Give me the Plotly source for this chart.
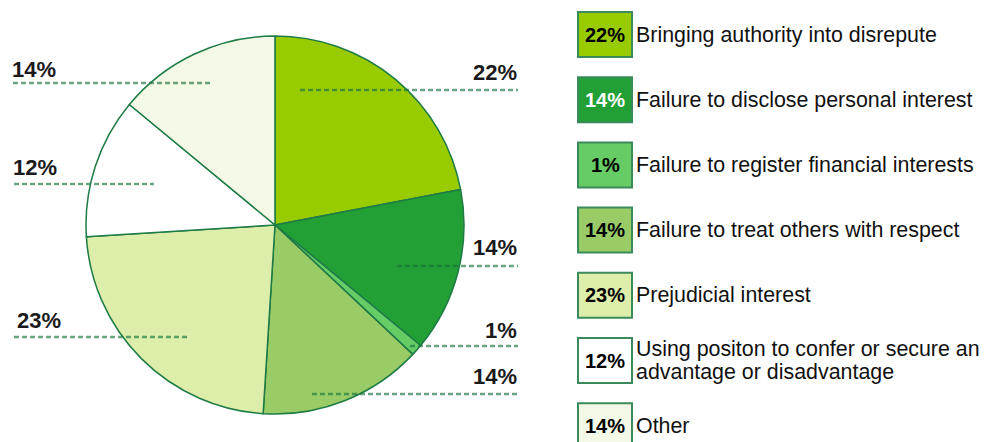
import plotly.graph_objects as go

# ---- data ----
categories = [
    "Bringing authority into disrepute",
    "Failure to disclose personal interest",
    "Failure to register financial interests",
    "Failure to treat others with respect",
    "Prejudicial interest",
    "Using positon to confer or secure an\nadvantage or disadvantage",
    "Other",
]
values = [22, 14, 1, 14, 23, 12, 14]
pct_labels = ["22%", "14%", "1%", "14%", "23%", "12%", "14%"]

# ---- styles ----
colors = ["#99cc00", "#22a036", "#66cc66", "#99cc66", "#ddeeaa", "#ffffff", "#f3f9e6"]
box_text_colors = ["#000000", "#ffffff", "#000000", "#000000", "#000000", "#000000", "#000000"]
edge_color = "#1e7b45"
FONT = "Arial, Liberation Sans, sans-serif"

OFF = 8  # page body margin
W, H = 993 - OFF, 442 - OFF
cx, cy, r = 275, 225, 189

# outside label layout (page pixels): text anchor x, text y, line y, line x0, line x1, side
label_layout = [
    (519, 73, 90, 300, 518, "right"),
    (519, 247, 266, 397, 518, "right"),
    (519, 330, 346, 410, 518, "right"),
    (519, 376, 394, 312, 518, "right"),
    (15, 320, 337, 14, 188, "left"),
    (11, 167, 184, 14, 154, "left"),
    (10, 70, 83, 13, 210, "left"),
]

def px(x):
    return (x - OFF) / W

def py(y):
    return 1 - (y - OFF) / H

fig = go.Figure()
fig.add_trace(go.Pie(
    labels=[c.replace("\n", " ") for c in categories],
    values=values,
    sort=False,
    direction="clockwise",
    rotation=0,
    textinfo="none",
    hoverinfo="label+percent",
    marker=dict(colors=colors, line=dict(color=edge_color, width=1.5)),
    domain=dict(x=[px(cx - r), px(cx + r)], y=[py(cy + r), py(cy - r)]),
    showlegend=False,
))

shapes = []
annotations = []

# outside percentage labels with dashed leaders
for lab, (tx, ty, ly, lx0, lx1, side) in zip(pct_labels, label_layout):
    shapes.append(dict(type="line", xref="paper", yref="paper",
                       x0=px(lx0), x1=px(lx1), y0=py(ly), y1=py(ly),
                       line=dict(color="rgba(25,115,65,0.65)", width=2.5, dash="5px,3px")))
    annotations.append(dict(text="<b>%s</b>" % lab, xref="paper", yref="paper",
                            x=px(tx), y=py(ty),
                            xanchor="right" if side == "right" else "left", yanchor="middle",
                            showarrow=False, font=dict(family=FONT, size=22, color="#1a1a1a")))

# custom legend
leg_x0, leg_x1 = 578, 632
leg_top, leg_step, leg_h = 12, 65.2, 45
for i, (cat, lab, col, tcol) in enumerate(zip(categories, pct_labels, colors, box_text_colors)):
    y0 = leg_top + i * leg_step
    yc = y0 + leg_h / 2
    shapes.append(dict(type="rect", xref="paper", yref="paper",
                       x0=px(leg_x0), x1=px(leg_x1), y0=py(y0 + leg_h), y1=py(y0),
                       fillcolor=col, line=dict(color="#3a8a5c", width=2)))
    annotations.append(dict(text="<b>%s</b>" % lab, xref="paper", yref="paper",
                            x=px((leg_x0 + leg_x1) / 2), y=py(yc),
                            xanchor="center", yanchor="middle", showarrow=False,
                            font=dict(family=FONT, size=20, color=tcol)))
    lines = cat.split("\n")
    n = len(lines)
    for j, ln in enumerate(lines):
        ly = yc + (j - (n - 1) / 2) * 23
        annotations.append(dict(text=ln, xref="paper", yref="paper",
                                x=px(634), y=py(ly), xanchor="left", yanchor="middle",
                                showarrow=False, font=dict(family=FONT, size=21.4, color="#111111")))

fig.update_layout(
    width=W, height=H,
    margin=dict(l=0, r=0, t=0, b=0),
    paper_bgcolor="white", plot_bgcolor="white",
    shapes=shapes, annotations=annotations,
)

fig.write_html("out.html")
